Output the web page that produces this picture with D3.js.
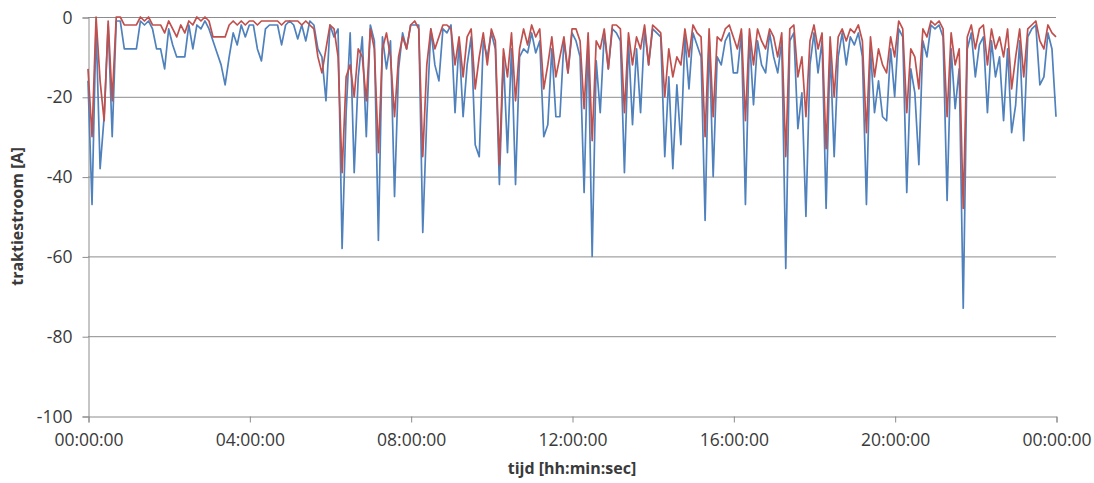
<!DOCTYPE html>
<html>
<head>
<meta charset="utf-8">
<script src="https://cdn.jsdelivr.net/npm/d3@7"></script>
<style>
  body { margin: 0; background: #fff; }
  svg text { font-family: "Open Sans", sans-serif; fill: #3a3a3a; }
</style>
</head>
<body>
<div id="chart"></div>
<script>
// samples every 6 minutes, one row per hour
var blueAmps = [
  -16,-47,-2,-38,-25,-2,-30,-1,-1,-8,
  -8,-8,-8,-1,-2,-1,-3,-8,-8,-13,
  -3,-7,-10,-10,-10,-2,-8,-2,-3,-1,
  -3,-6,-9,-12,-17,-10,-4,-7,-2,-5,
  -2,-2,-8,-11,-3,-2,-2,-2,-7,-2,
  -1,-2,-5.5,-2,-6,-1,-2,-8,-10,-21,
  -2,-5,-3,-58,-24,-4,-39,-15,-5,-30,
  -2,-6,-56,-5,-13,-6,-45,-13,-4,-8,
  -2,-2,-2,-54,-25,-3,-12,-16,-3,-4,
  -2,-24,-6,-25,-12,-5,-32,-35,-6,-10,
  -4,-8,-42,-10,-34,-8,-42,-10,-8,-9,
  -4,-9,-6,-30,-27,-8,-25,-25,-6,-14,
  -4,-6,-10,-44,-5,-60,-11,-24,-4,-13,
  -3,-4,-6,-39,-6,-27,-8,-24,-3,-12,
  -3,-4,-5,-35,-15,-38,-17,-32,-5,-18,
  -4,-7,-10,-51,-5,-40,-10,-12,-6,-4,
  -14,-14,-4,-47,-5,-22,-6,-12,-14,-4,
  -10,-14,-6,-63,-6,-4,-28,-19,-50,-12,
  -4,-14,-6,-48,-8,-35,-10,-4,-12,-5,
  -7,-4,-10,-47,-8,-24,-16,-25,-26,-8,
  -20,-3,-5,-44,-13,-19,-37,-6,-10,-2,
  -3,-2,-5,-46,-8,-23,-13,-73,-8,-4,
  -15,-7,-5,-24,-6,-15,-10,-26,-8,-29,
  -22,-6,-31,-5,-3,-2,-17,-15,-4,-8,
  -25
];

var redAmps = [
  -13,-30,0,-16,-26,-1,-21,0,0,-2,
  -2,-2,-2,0,-1,0,-2,-2,-2,-4,
  -1,-3,-5,-2,-4,-1,-2,0,-1,0,
  -1,-5,-5,-5,-5,-2,-1,-2,-1,-2,
  -1,-1,-2,-1,-1,-1,-1,-1,-2,-1,
  -1,-1,-1,-2,-1,-2,-3,-10,-14,-8,
  -2,-3,-10,-39,-15,-12,-20,-8,-10,-21,
  -3,-8,-34,-8,-4,-10,-25,-10,-5,-8,
  -2,-1,-3,-35,-12,-3,-8,-5,-2,-2,
  -3,-12,-5,-15,-5,-3,-18,-10,-4,-12,
  -3,-6,-37,-8,-15,-4,-21,-8,-3,-7,
  -2,-5,-3,-18,-12,-5,-15,-10,-5,-14,
  -3,-3,-6,-23,-4,-31,-6,-8,-3,-13,
  -2,-2,-3,-24,-4,-12,-5,-8,-2,-12,
  -2,-3,-4,-20,-8,-15,-10,-12,-3,-10,
  -2,-4,-5,-30,-3,-25,-5,-6,-3,-2,
  -5,-8,-3,-26,-3,-12,-3,-6,-8,-3,
  -5,-10,-4,-35,-3,-2,-15,-10,-25,-6,
  -2,-8,-4,-33,-5,-20,-5,-3,-6,-3,
  -4,-2,-6,-29,-5,-15,-8,-12,-14,-5,
  -10,-1,-3,-24,-8,-10,-18,-3,-5,-1,
  -2,-1,-3,-25,-4,-12,-8,-48,-5,-2,
  -8,-3,-2,-12,-3,-8,-5,-10,-3,-18,
  -10,-3,-15,-3,-2,-1,-6,-8,-2,-4,
  -5
];

var xTickMinutes = [0, 240, 480, 720, 960, 1200, 1440];
var xTickLabels = ["00:00:00", "04:00:00", "08:00:00", "12:00:00", "16:00:00", "20:00:00", "00:00:00"];
var yTicks = [0, -20, -40, -60, -80, -100];

var stepMin = 6;

var width = 1094, height = 483;
var margin = {top: 17, right: 38, bottom: 67, left: 88};

var svg = d3.select("#chart").append("svg")
    .attr("width", width)
    .attr("height", height);

var x = d3.scaleLinear().domain([0, 1440]).range([margin.left, width - margin.right]);
var y = d3.scaleLinear().domain([-100, 0]).range([height - margin.bottom, margin.top]);

// gridlines
svg.append("g").selectAll("line")
    .data(yTicks.filter((d) => d !== -100))
    .enter().append("line")
    .attr("x1", x(0)).attr("x2", x(1440))
    .attr("y1", (d) => y(d) + 0.5).attr("y2", (d) => y(d) + 0.5)
    .attr("stroke", "#8c8c8c")
    .attr("stroke-width", 1);

// y axis
var yAxis = svg.append("g")
    .attr("transform", "translate(" + (x(0) + 0.5) + ",0.5)")
    .call(d3.axisLeft(y).tickValues(yTicks).tickSize(6).tickFormat((d) => String(d)));
yAxis.select(".domain").attr("stroke", "#8c8c8c");
yAxis.selectAll(".tick line").attr("stroke", "#8c8c8c");
yAxis.selectAll(".tick text")
    .attr("x", -16)
    .style("font-size", "17.5px")
    .style("font-family", "Open Sans, sans-serif")
    .attr("fill", "#3a3a3a");

// x axis
var xAxis = svg.append("g")
    .attr("transform", "translate(0.5," + (y(-100) + 0.5) + ")")
    .call(d3.axisBottom(x).tickValues(xTickMinutes).tickSize(6)
        .tickFormat((d, i) => xTickLabels[i]));
xAxis.select(".domain").attr("stroke", "#8c8c8c");
xAxis.selectAll(".tick line").attr("stroke", "#8c8c8c");
xAxis.selectAll(".tick text")
    .attr("y", 17)
    .style("font-size", "17.5px")
    .style("font-family", "Open Sans, sans-serif")
    .attr("fill", "#3a3a3a");

// lines
var line = d3.line()
    .x((d, i) => x(i * stepMin))
    .y((d) => y(d));

svg.append("path")
    .datum(blueAmps)
    .attr("fill", "none")
    .attr("stroke", "#4f81bd")
    .attr("stroke-width", 1.7)
    .attr("stroke-linejoin", "round")
    .attr("d", line);

svg.append("path")
    .datum(redAmps)
    .attr("fill", "none")
    .attr("stroke", "#c0504d")
    .attr("stroke-width", 1.7)
    .attr("stroke-linejoin", "round")
    .attr("d", line);

// axis titles
svg.append("text")
    .attr("transform", "translate(23," + ((y(0) + y(-100)) / 2) + ") rotate(-90)")
    .attr("text-anchor", "middle")
    .style("font-size", "16px")
    .style("font-weight", "bold")
    .attr("fill", "#222")
    .text("traktiestroom [A]");

svg.append("text")
    .attr("x", (x(0) + x(1440)) / 2)
    .attr("y", 474)
    .attr("text-anchor", "middle")
    .style("font-size", "16px")
    .style("font-weight", "bold")
    .attr("fill", "#222")
    .text("tijd [hh:min:sec]");
</script>
</body>
</html>
